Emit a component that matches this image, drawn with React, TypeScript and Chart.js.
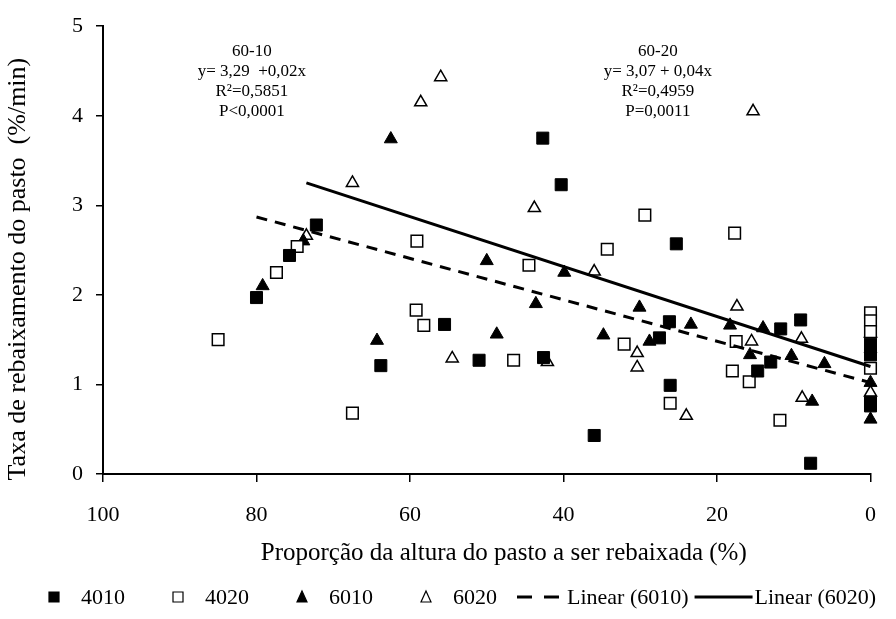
import React, { useEffect, useRef } from 'react';
import { Chart, registerables } from 'chart.js';

Chart.register(...registerables);

const FONT = "'Liberation Serif', 'Times New Roman', serif";

// ---- data ----
const xTicks = [100, 80, 60, 40, 20, 0];
const yTicks = [0, 1, 2, 3, 4, 5];

const s4010 = [
  { x: 80, y: 1.97 }, { x: 75.7, y: 2.44 }, { x: 72.2, y: 2.78 }, { x: 63.8, y: 1.21 },
  { x: 55.5, y: 1.67 }, { x: 51, y: 1.27 }, { x: 42.7, y: 3.75 }, { x: 42.6, y: 1.30 },
  { x: 40.3, y: 3.23 }, { x: 36, y: 0.43 }, { x: 27.5, y: 1.52 }, { x: 26.2, y: 1.70 },
  { x: 26.1, y: 0.99 }, { x: 25.3, y: 2.57 }, { x: 14.7, y: 1.15 }, { x: 13, y: 1.25 },
  { x: 11.7, y: 1.62 }, { x: 9.1, y: 1.72 }, { x: 7.8, y: 0.12 }, { x: 0, y: 1.45 },
  { x: 0, y: 1.33 }, { x: 0, y: 0.80 }, { x: 0, y: 0.76 },
];

const s4020 = [
  { x: 85, y: 1.50 }, { x: 77.4, y: 2.25 }, { x: 74.7, y: 2.54 }, { x: 67.5, y: 0.68 },
  { x: 59.1, y: 2.60 }, { x: 59.2, y: 1.83 }, { x: 58.2, y: 1.66 }, { x: 46.5, y: 1.27 },
  { x: 44.5, y: 2.33 }, { x: 34.3, y: 2.51 }, { x: 32.1, y: 1.45 }, { x: 29.4, y: 2.89 },
  { x: 26.1, y: 0.79 }, { x: 17.7, y: 2.69 }, { x: 17.5, y: 1.48 }, { x: 18, y: 1.15 },
  { x: 15.8, y: 1.03 }, { x: 11.8, y: 0.60 }, { x: 0, y: 1.80 }, { x: 0, y: 1.71 },
  { x: 0, y: 1.59 }, { x: 0, y: 1.18 },
];

const s6010 = [
  { x: 79.2, y: 2.10 }, { x: 73.9, y: 2.60 }, { x: 64.3, y: 1.49 }, { x: 62.5, y: 3.74 },
  { x: 50, y: 2.38 }, { x: 48.7, y: 1.56 }, { x: 43.6, y: 1.90 }, { x: 39.9, y: 2.25 },
  { x: 34.8, y: 1.55 }, { x: 30.1, y: 1.86 }, { x: 28.8, y: 1.48 }, { x: 23.4, y: 1.67 },
  { x: 18.3, y: 1.66 }, { x: 15.7, y: 1.33 }, { x: 14, y: 1.63 }, { x: 10.3, y: 1.32 },
  { x: 7.6, y: 0.81 }, { x: 6, y: 1.23 }, { x: 0, y: 1.40 }, { x: 0, y: 1.02 },
  { x: 0, y: 0.61 },
];

const s6020 = [
  { x: 73.5, y: 2.66 }, { x: 67.5, y: 3.25 }, { x: 58.6, y: 4.15 }, { x: 56, y: 4.43 },
  { x: 54.5, y: 1.29 }, { x: 43.8, y: 2.97 }, { x: 42.1, y: 1.25 }, { x: 36, y: 2.26 },
  { x: 30.4, y: 1.35 }, { x: 30.4, y: 1.19 }, { x: 24, y: 0.65 }, { x: 17.4, y: 1.87 },
  { x: 15.5, y: 1.48 }, { x: 15.3, y: 4.05 }, { x: 9, y: 1.51 }, { x: 8.9, y: 0.85 },
  { x: 0, y: 1.57 }, { x: 0, y: 0.91 },
];

const linear6010 = [{ x: 80, y: 2.87 }, { x: 0, y: 1.02 }];
const linear6020 = [{ x: 73.5, y: 3.25 }, { x: 0, y: 1.2 }];

const seriesLabels = ['4010', '4020', '6010', '6020', 'Linear (6010)', 'Linear (6020)'];

const xTitle = 'Proporção da altura do pasto a ser rebaixada (%)';
const yTitle = 'Taxa de rebaixamento do pasto  (%/min)';

const note6010 = ['60-10', 'y= 3,29  +0,02x', 'R²=0,5851', 'P<0,0001'];
const note6020 = ['60-20', 'y= 3,07 + 0,04x', 'R²=0,4959', 'P=0,0011'];
// anchor (data coordinates) of first line of each note
const noteAnchors = [{ x: 80.6, y: 4.72 }, { x: 27.7, y: 4.72 }];

// ---- plugins ----
const textPlugin = {
  id: 'textPlugin',
  afterDraw(chart: any) {
    const ctx = chart.ctx;
    const xs = chart.scales.x;
    const ys = chart.scales.y;
    const ca = chart.chartArea;
    ctx.save();
    ctx.fillStyle = '#000';
    ctx.font = `17px ${FONT}`;
    ctx.textAlign = 'center';
    ctx.textBaseline = 'middle';
    [note6010, note6020].forEach((lines, i) => {
      const px = xs.getPixelForValue(noteAnchors[i].x);
      const py = ys.getPixelForValue(noteAnchors[i].y);
      lines.forEach((t, k) => ctx.fillText(t, px, py + k * 20));
    });
    ctx.font = `25px ${FONT}`;
    ctx.fillText(xTitle, (ca.left + ca.right) / 2 + 17, ca.bottom + 79);
    ctx.save();
    ctx.translate(18, (ca.top + ca.bottom) / 2 + 19);
    ctx.rotate(-Math.PI / 2);
    ctx.font = `26px ${FONT}`;
    ctx.fillText(yTitle, 0, 0);
    ctx.restore();
    ctx.restore();
  },
};

const legendPlugin = {
  id: 'legendPlugin',
  afterDraw(chart: any) {
    const ctx = chart.ctx;
    ctx.save();
    ctx.font = `22px ${FONT}`;
    ctx.textBaseline = 'middle';
    ctx.textAlign = 'left';
    const y = chart.height - 22;
    let x = 49;
    let prevLine: boolean | null = null;
    chart.data.datasets.forEach((ds: any) => {
      const label = ds.label;
      const tw = ctx.measureText(label).width;
      if (ds.showLine) {
        x += prevLine === null ? 0 : prevLine ? 6 : 20;
        const dashed = (ds.borderDash || []).length > 0;
        const w = dashed ? 42 : 58;
        ctx.beginPath();
        ctx.strokeStyle = '#000';
        ctx.lineWidth = 3;
        ctx.setLineDash(dashed ? [15, 12] : []);
        ctx.moveTo(x, y);
        ctx.lineTo(x + w, y);
        ctx.stroke();
        ctx.setLineDash([]);
        x += w + (dashed ? 8 : 2);
        ctx.fillStyle = '#000';
        ctx.fillText(label, x, y + 1);
        x += tw;
        prevLine = true;
      } else {
        x += prevLine === null ? 0 : 48;
        const s = 10;
        const cx = x + s / 2;
        ctx.beginPath();
        if (ds.pointStyle === 'rect') {
          ctx.rect(cx - s / 2, y - s / 2, s, s);
        } else {
          ctx.moveTo(cx, y - s / 2 - 1);
          ctx.lineTo(cx + s / 2, y + s / 2);
          ctx.lineTo(cx - s / 2, y + s / 2);
          ctx.closePath();
        }
        ctx.fillStyle = ds.backgroundColor;
        ctx.fill();
        ctx.lineWidth = 1.2;
        ctx.strokeStyle = '#000';
        ctx.stroke();
        x += s + 22;
        ctx.fillStyle = '#000';
        ctx.fillText(label, x, y + 1);
        x += tw;
        prevLine = false;
      }
    });
    ctx.restore();
  },
};

export default function App() {
  const ref = useRef<HTMLCanvasElement | null>(null);

  useEffect(() => {
    if (!ref.current) return;
    const marker = (data: any[], style: string, filled: boolean, r: number, label: string) => ({
      type: 'scatter',
      label,
      data,
      pointStyle: style,
      pointRadius: r,
      pointHoverRadius: r,
      backgroundColor: filled ? '#000' : '#fff',
      borderColor: '#000',
      borderWidth: filled ? 1 : 1.5,
      showLine: false,
      clip: false,
      order: 2,
    });
    const line = (data: any[], dash: number[], label: string) => ({
      type: 'scatter',
      label,
      data,
      showLine: true,
      borderColor: '#000',
      backgroundColor: '#000',
      borderWidth: 3,
      borderDash: dash,
      pointRadius: 0,
      pointHoverRadius: 0,
      clip: false,
      order: 1,
    });

    const chart = new Chart(ref.current, {
      type: 'scatter',
      data: {
        datasets: [
          marker(s4010, 'rect', true, 8.5, seriesLabels[0]),
          marker(s4020, 'rect', false, 8.2, seriesLabels[1]),
          marker(s6010, 'triangle', true, 7.5, seriesLabels[2]),
          marker(s6020, 'triangle', false, 7, seriesLabels[3]),
          line(linear6010, [11, 8], seriesLabels[4]),
          line(linear6020, [], seriesLabels[5]),
        ] as any,
      },
      options: {
        animation: false,
        responsive: false,
        maintainAspectRatio: false,
        layout: { padding: { top: 22, right: 23, left: 0, bottom: 0 } },
        plugins: {
          legend: { display: false },
          tooltip: { enabled: false },
          title: { display: false },
        },
        scales: {
          x: {
            type: 'linear',
            reverse: true,
            min: 0,
            max: 100,
            afterBuildTicks: (s: any) => { s.ticks = xTicks.map((v) => ({ value: v })); },
            afterFit: (s: any) => { s.height = 145; },
            ticks: {
              color: '#000',
              font: { family: FONT, size: 22 },
              padding: 20,
              maxRotation: 0,
              autoSkip: false,
            },
            grid: {
              display: true,
              drawOnChartArea: false,
              drawTicks: true,
              tickLength: 8,
              color: '#000',
              lineWidth: 1.5,
            },
            border: { display: true, color: '#000', width: 2 },
          },
          y: {
            type: 'linear',
            min: 0,
            max: 5,
            afterBuildTicks: (s: any) => { s.ticks = yTicks.map((v) => ({ value: v })); },
            afterFit: (s: any) => { s.width = 103; },
            ticks: {
              color: '#000',
              font: { family: FONT, size: 22 },
              padding: 13,
              autoSkip: false,
            },
            grid: {
              display: true,
              drawOnChartArea: false,
              drawTicks: true,
              tickLength: 7,
              color: '#000',
              lineWidth: 1.5,
            },
            border: { display: true, color: '#000', width: 2 },
          },
        },
      } as any,
      plugins: [textPlugin, legendPlugin],
    });
    return () => chart.destroy();
  }, []);

  return (
    <div style={{ position: 'absolute', left: 0, top: 0, width: 896, height: 619, background: '#fff' }}>
      <canvas ref={ref} width={896} height={619} style={{ display: 'block', width: 896, height: 619 }} />
    </div>
  );
}
